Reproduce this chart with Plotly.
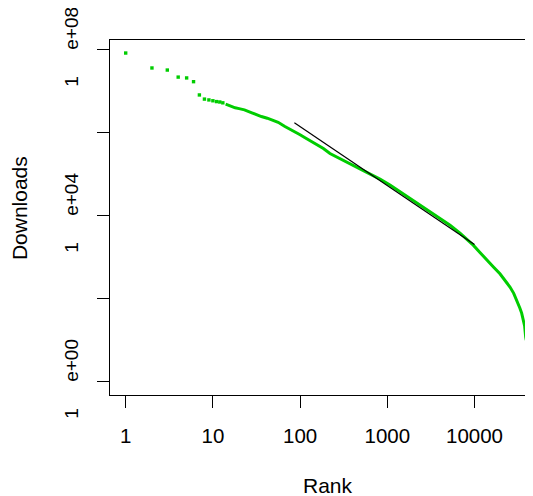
import plotly.graph_objects as go

# Rank / downloads (log-log plot)
head_rank = [1, 2, 3, 4, 5, 6, 7, 8, 9, 10, 11, 12, 13]
head_downloads = [83200000, 36310000, 32360000, 21880000, 20890000, 16980000,
                  8128000, 6457000, 6166000, 5888000, 5623000, 5495000, 5248000]

body_rank = [14, 16, 18, 20, 23, 28, 32, 36, 42, 47, 56, 67, 79, 87, 100, 114,
             130, 148, 169, 185, 220, 286, 373, 486, 632, 824, 1074, 1400, 1820,
             2371, 2951, 4018, 5248, 6823, 9683, 11480, 13800, 16600, 19590,
             22390, 25530, 28180, 30480, 33110, 34750, 36310, 37580, 38640, 39260]
body_downloads = [4898000, 4365000, 3981000, 3802000, 3548000, 3020000, 2692000,
                  2455000, 2239000, 2042000, 1778000, 1413000, 1148000, 1047000,
                  891000, 758600, 645700, 549500, 467700, 416900, 316200, 239900,
                  182000, 138000, 104700, 75860, 54950, 38020, 26300, 17780, 13180,
                  8710, 5888, 3802, 1950, 1318, 851, 575, 398, 275, 191, 135, 93,
                  60, 45, 32, 22, 12, 10]

tail_rank = [39720, 39990, 40270, 40460, 40640, 40830, 41020]
tail_downloads = [8, 6, 5, 4, 3, 2, 1]

fit_rank = [86, 10000]
fit_downloads = [1740000, 2030]

x_tickvals = [1, 10, 100, 1000, 10000]
x_ticktext = ["1", "10", "100", "1000", "10000"]
y_tickvals = [1, 1e2, 1e4, 1e6, 1e8]
GAP = "\u00a0" * 5
y_ticktext = ["1" + GAP + "e+00", "", "1" + GAP + "e+04", "", "1" + GAP + "e+08"]

GREEN = "#00CD00"

fig = go.Figure()
fig.add_trace(go.Scatter(x=body_rank, y=body_downloads, mode="lines",
                         line=dict(color=GREEN, width=3), hoverinfo="skip"))
fig.add_trace(go.Scatter(x=head_rank + tail_rank, y=head_downloads + tail_downloads,
                         mode="markers",
                         marker=dict(color=GREEN, size=3.4, symbol="square",
                                     line=dict(width=0)), hoverinfo="skip"))
fig.add_trace(go.Scatter(x=fit_rank, y=fit_downloads, mode="lines",
                         line=dict(color="black", width=1.2), hoverinfo="skip"))

font = "Liberation Sans, Arial, Helvetica, sans-serif"
fig.update_layout(
    width=525, height=488,
    margin=dict(l=102, r=0, t=32, b=101, autoexpand=False),
    paper_bgcolor="white", plot_bgcolor="white",
    showlegend=False,
    font=dict(family=font, color="black"),
    xaxis=dict(type="log", range=[-0.180, 4.671], showgrid=False, zeroline=False,
               automargin=False,
               showline=True, mirror=True, linecolor="black", linewidth=1,
               ticks="outside", ticklen=12, tickwidth=1, tickcolor="black",
               tickvals=x_tickvals, ticktext=x_ticktext,
               tickfont=dict(size=20.5), ticklabelstandoff=10),
    yaxis=dict(type="log", range=[-0.320, 8.234], showgrid=False, zeroline=False,
               automargin=False,
               showline=True, mirror=False, linecolor="black", linewidth=1,
               ticks="outside", ticklen=12, tickwidth=1, tickcolor="black",
               tickvals=y_tickvals, ticktext=y_ticktext, tickangle=-90,
               tickfont=dict(size=19), ticklabelstandoff=11,
               ticklabeloverflow="allow"),
    annotations=[
        dict(text="Rank", xref="paper", yref="paper", x=0.5154, y=-0.2555,
             xanchor="center", yanchor="middle", showarrow=False,
             font=dict(size=21)),
        dict(text="Downloads", xref="paper", yref="paper", x=-0.2125, y=0.5268,
             xanchor="center", yanchor="middle", showarrow=False, textangle=-90,
             borderpad=0, font=dict(size=21)),
    ],
)

fig.write_html("out.html")
